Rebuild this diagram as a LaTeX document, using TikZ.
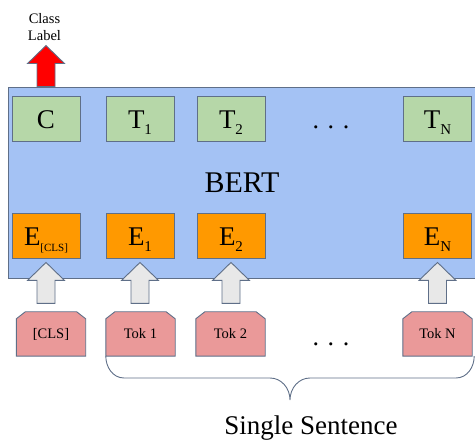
\documentclass[tikz,border=0pt]{standalone}
\usepackage{fontspec}
\setmainfont{Liberation Serif}
\usetikzlibrary{calc,backgrounds}
\definecolor{bertblue}{HTML}{A4C2F4}
\definecolor{tgreen}{HTML}{B6D7A8}
\definecolor{eorange}{HTML}{FF9900}
\definecolor{tokpink}{HTML}{EA9999}
\definecolor{arrgray}{HTML}{E8E8E8}
\definecolor{edgecol}{HTML}{5F6F88}
\newcommand\subtx[2][15]{\raisebox{-6pt}{\fontsize{#1}{#1}\selectfont #2}}
\newcommand\blockup[2]{\draw[#1] ($(#2)+(-9,0)$) -- ++(18,0) -- ++(0,23) -- ++(9.5,0) -- ++(-18.5,18) -- ++(-18.5,-18) -- ++(9.5,0) -- cycle;}
\begin{document}
\begin{tikzpicture}[x=1pt,y=1pt,
  box/.style={draw=edgecol, line width=0.9pt, minimum width=68pt, minimum height=45pt, inner sep=0pt, text height=20pt, text depth=0pt, font=\fontsize{27}{27}\selectfont},
  tbox/.style={box, fill=tgreen},
  ebox/.style={box, fill=eorange},
  tokbox/.style={minimum width=69pt, minimum height=44pt, inner sep=0pt, font=\fontsize{14.5}{14.5}\selectfont},
  tokshape/.style={draw=edgecol, line width=0.9pt, fill=tokpink, line join=miter},
  garrow/.style={draw=edgecol, line width=0.9pt, fill=arrgray},
  rarrow/.style={draw=edgecol, line width=0.9pt, fill=red},
  dots/.style={font=\fontsize{26}{26}\selectfont, anchor=base, inner sep=0pt},
  brace/.style={draw=edgecol, line width=0.9pt},
  ]
\useasboundingbox (0,0) rectangle (475,441);
\node[draw=edgecol, line width=0.9pt, fill=bertblue, minimum width=468pt, minimum height=191pt, font=\fontsize{30}{30}\selectfont] (bert) at (242,258.5) {BERT};
% output tokens
\node[tbox] (c) at (46,322.5) {C};
\node[tbox] (t1) at (140,322.5) {T\subtx{1}};
\node[tbox] (t2) at (231,322.5) {T\subtx{2}};
\node[tbox] (tn) at (437.5,322.5) {T\subtx{N}};
\node[dots] (tdots) at (331,312.5) {. . .};
% embeddings
\node[ebox] (ecls) at (46,205.5) {E\subtx[11]{[CLS]}};
\node[ebox] (e1) at (140,205.5) {E\subtx{1}};
\node[ebox] (e2) at (231,205.5) {E\subtx{2}};
\node[ebox] (en) at (437.5,205.5) {E\subtx{N}};
% input tokens
\node[tokbox] (tokcls) at (51,107) {[CLS]};
\node[tokbox] (tok1) at (140.5,107) {Tok 1};
\node[tokbox] (tok2) at (230.5,107) {Tok 2};
\node[tokbox] (tokn) at (437.5,107) {Tok N};
\node[dots] (bdots) at (331,95.5) {. . .};
\begin{scope}[on background layer]
\foreach \t in {tokcls,tok1,tok2,tokn}{
  \draw[tokshape] (\t.south west) -- ([yshift=-7pt]\t.north west) -- ([xshift=9pt]\t.north west) -- ([xshift=-9pt]\t.north east) -- ([yshift=-7pt]\t.north east) -- (\t.south east) -- cycle;}
\end{scope}
% block arrows
\blockup{garrow}{$(ecls.south)+(0,-45)$}
\blockup{garrow}{$(e1.south)+(0,-45)$}
\blockup{garrow}{$(e2.south)+(0,-45)$}
\blockup{garrow}{$(en.south)+(0,-45)$}
\blockup{rarrow}{$(c.north)+(0,9)$}
\node[align=center, font=\fontsize{14.5}{17.4}\selectfont, inner sep=0pt] (lbl) at (44.5,414) {Class\\Label};
% brace
\coordinate (bl) at (tok1.south west);
\coordinate (br) at ($(tokn.south east)+(2,0)$);
\coordinate (bl2) at (124,63);
\coordinate (bm1) at (270,63);
\coordinate (btip) at (290,41);
\coordinate (bm2) at (310,63);
\coordinate (br2) at (456,63);
\draw[brace] (bl) to[out=-90,in=180] (bl2) -- (bm1) to[out=0,in=90] (btip) to[out=90,in=180] (bm2) -- (br2) to[out=0,in=-90] (br);
\node[font=\fontsize{27}{27}\selectfont, anchor=base, inner sep=0pt] (ss) at (311,6.5) {Single Sentence};
\end{tikzpicture}
\end{document}
